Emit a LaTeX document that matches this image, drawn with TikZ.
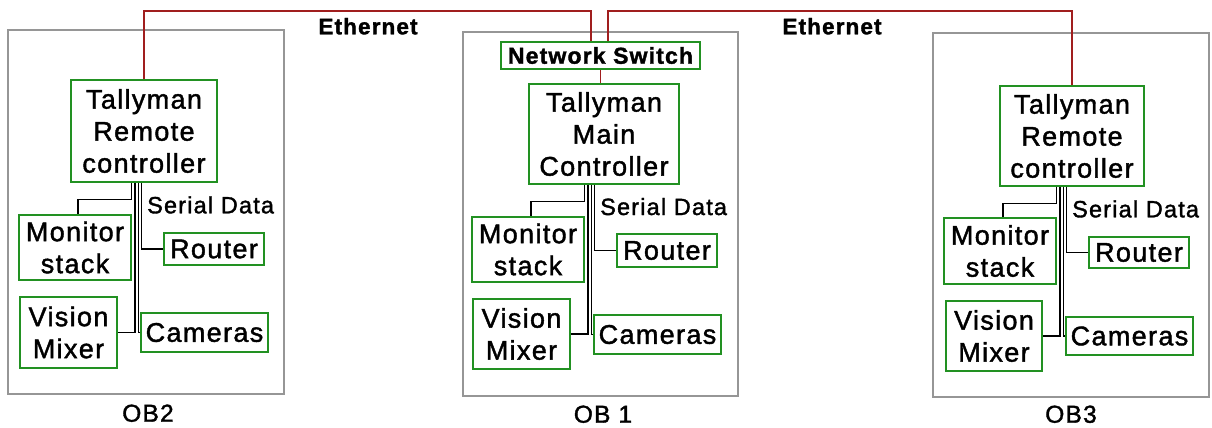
\documentclass[tikz,border=0pt]{standalone}
\usepackage{fontspec}
\setmainfont{Liberation Sans}[LetterSpace=5,FakeBold=1.5]
\usetikzlibrary{calc}
\definecolor{gbox}{RGB}{34,145,34}
\definecolor{ered}{RGB}{160,30,30}
\definecolor{obgray}{RGB}{150,150,150}
\tikzset{
  gb/.style={draw=gbox,line width=1.3pt,inner sep=0pt,align=center,font=\fontsize{27}{32}\selectfont},
  ob/.style={draw=obgray,line width=1.5pt},
  wire/.style={draw=black,line width=1.1pt},
  eth/.style={draw=ered,line width=1.3pt},
  lbl/.style={inner sep=0pt,anchor=base,font=\fontsize{22}{26}\selectfont},
  sdl/.style={inner sep=0pt,anchor=base west,font=\fontsize{23.5}{27}\selectfont},
}
\begin{document}
\begin{tikzpicture}[x=1pt,y=-1pt]
\useasboundingbox (0,0) rectangle (1212,428);
% outer boxes
\draw[ob] (8,30) rectangle (284,394);
\draw[ob] (463,32) rectangle (738,396);
\draw[ob] (933,33) rectangle (1209,397);
% OB2
\node[gb,minimum width=146pt,minimum height=102pt] (c2) at (144,131) {Tallyman\\Remote\\controller};
\node[gb,minimum width=112pt,minimum height=65pt] (m2) at (75,247.5) {Monitor\\stack};
\node[gb,minimum width=100pt,minimum height=32pt] (r2) at (214,249) {Router};
\node[gb,minimum width=97pt,minimum height=71pt] (v2) at (68.5,332.5) {Vision\\Mixer};
\node[gb,minimum width=127pt,minimum height=39pt] (k2) at (204.5,332.5) {Cameras};
% OB1
\node[gb,minimum width=199pt,minimum height=27pt,font=\fontsize{23}{27}\selectfont\bfseries] (s1) at (600.5,55.5) {Network Switch};
\node[gb,minimum width=150pt,minimum height=100pt] (c1) at (604,134) {Tallyman\\Main\\Controller};
\node[gb,minimum width=112pt,minimum height=65pt] (m1) at (528,249.5) {Monitor\\stack};
\node[gb,minimum width=100pt,minimum height=33pt] (r1) at (667,250.5) {Router};
\node[gb,minimum width=97pt,minimum height=70pt] (v1) at (521.5,334) {Vision\\Mixer};
\node[gb,minimum width=127pt,minimum height=39pt] (k1) at (657.5,334.5) {Cameras};
% OB3
\node[gb,minimum width=144pt,minimum height=100pt] (c3) at (1072,136) {Tallyman\\Remote\\controller};
\node[gb,minimum width=112pt,minimum height=66pt] (m3) at (1000,251) {Monitor\\stack};
\node[gb,minimum width=100pt,minimum height=31pt] (r3) at (1139,252.5) {Router};
\node[gb,minimum width=96pt,minimum height=70pt] (v3) at (994,336) {Vision\\Mixer};
\node[gb,minimum width=127pt,minimum height=38pt] (k3) at (1129.5,336) {Cameras};
% serial data wiring
\foreach \i in {1,2,3}{
  \coordinate (t\i) at (c\i.south -| m\i.east);
  \draw[wire] (t\i) -- ++(0,17) -| ($(m\i.north)+(3,0)$);
  \draw[wire] ($(t\i)+(3.3,0)$) |- (v\i.east);
  \draw[wire] ($(t\i)+(6.7,0)$) |- (k\i.west);
  \draw[wire] ($(t\i)+(10,0)$) |- (r\i.west);
}
\node[sdl] (sd2) at (147,213.3) {Serial Data};
\node[sdl] (sd1) at (600,215) {Serial Data};
\node[sdl] (sd3) at (1072,217.3) {Serial Data};
% ethernet
\coordinate (e2) at (144,11);
\draw[eth] (c2.north) -- (c2.north |- e2) -| ($(s1.north)+(-9.5,0)$);
\draw[eth] (c3.north) -- (c3.north |- e2) -| ($(s1.north)+(7.5,0)$);
\draw[eth] (s1.south) -- (s1.south |- c1.north);
\node[lbl,font=\fontsize{22.5}{26}\selectfont\bfseries] (en1) at (368,34.3) {Ethernet};
\node[lbl,font=\fontsize{22.5}{26}\selectfont\bfseries] (en2) at (832,34.3) {Ethernet};
% labels
\node[lbl,font=\fontsize{24.5}{28}\selectfont] (l2) at (148,421.7) {OB2};
\node[lbl,font=\fontsize{24.5}{28}\selectfont] (l1) at (603,422.7) {OB 1};
\node[lbl,font=\fontsize{24.5}{28}\selectfont] (l3) at (1071,422.7) {OB3};
\end{tikzpicture}
\end{document}
